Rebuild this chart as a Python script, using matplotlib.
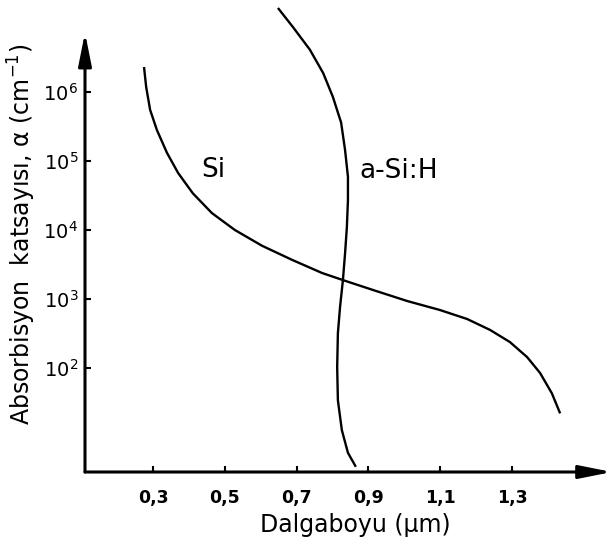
import numpy as np
import matplotlib
matplotlib.use("Agg")
import matplotlib.pyplot as plt
from matplotlib.ticker import FixedLocator, FuncFormatter

plt.rcParams['font.family'] = ['DejaVu Sans']

# --- veriler: dalgaboyu (um) ve sogurma katsayisi alpha (cm^-1) ---
si_wl = [0.275, 0.281, 0.292, 0.311, 0.339, 0.370, 0.411, 0.464, 0.528,
         0.604, 0.687, 0.771, 0.829, 0.913, 1.008, 1.099, 1.175, 1.239,
         1.294, 1.342, 1.378, 1.411, 1.434]
si_alpha = [2.3e6, 1.18e6, 5.5e5, 2.8e5, 1.31e5, 6.7e4, 3.4e4, 1.76e4, 1.0e4,
            5.9e3, 3.7e3, 2.38e3, 1.88e3, 1.35e3, 935, 693, 513, 356,
            238, 144, 85, 43, 22]

asi_wl = [0.648, 0.690, 0.737, 0.774, 0.801, 0.824, 0.835, 0.843, 0.843,
          0.840, 0.835, 0.829, 0.821, 0.815, 0.813, 0.815, 0.826, 0.843,
          0.865]
asi_alpha = [1.65e7, 8.7e6, 4.1e6, 1.88e6, 8.5e5, 3.6e5, 1.44e5, 5.9e4, 2.7e4,
             1.1e4, 4.6e3, 1.88e3, 765, 321, 103, 34, 12.6, 5.9,
             3.7]

x_ticks = [0.3, 0.5, 0.7, 0.9, 1.1, 1.3]
y_ticks = [1e2, 1e3, 1e4, 1e5, 1e6]

W, H = 612, 550
fig = plt.figure(figsize=(W / 100, H / 100), dpi=100)
# eksen kutusu: sol kenar = dikey eksen, alt kenar = yatay eksen
ax = fig.add_axes([85 / W, (H - 472) / H, (W - 85) / W, 472 / H])
ax.set_yscale('log')
xmin, xmax = 0.1106, 1.5785
ymin, ymax = 10 ** 0.493, 10 ** 7.333
ax.set_xlim(xmin, xmax)
ax.set_ylim(ymin, ymax)
for s in ax.spines.values():
    s.set_visible(False)

lw_curve = 1.7
ax.plot(si_wl, si_alpha, color='black', lw=lw_curve, solid_capstyle='butt',
        solid_joinstyle='round', clip_on=False)
ax.plot(asi_wl, asi_alpha, color='black', lw=lw_curve, solid_capstyle='butt',
        solid_joinstyle='round', clip_on=False)

# oklu eksenler
arrow = dict(arrowstyle='-|>,head_length=1.1,head_width=0.22', lw=2.2,
             color='black', shrinkA=0, shrinkB=0, mutation_scale=18)
ax.annotate('', xy=(xmin, 10 ** 6.86), xytext=(xmin, ymin), arrowprops=arrow,
            annotation_clip=False)
ax.annotate('', xy=(xmax, ymin), xytext=(xmin, ymin), arrowprops=arrow,
            annotation_clip=False)

ax.xaxis.set_major_locator(FixedLocator(x_ticks))
ax.xaxis.set_major_formatter(FuncFormatter(lambda v, p: f"{v:.1f}".replace('.', ',')))
ax.yaxis.set_major_locator(FixedLocator(y_ticks))
ax.yaxis.set_minor_locator(FixedLocator([]))
ax.yaxis.set_major_formatter(FuncFormatter(
    lambda v, p: r"$\mathregular{10^{%d}}$" % int(round(np.log10(v)))))
ax.tick_params(axis='x', direction='in', length=4, width=1.5, pad=12,
               labelsize=12.5)
ax.tick_params(axis='y', direction='in', length=4, width=1.5, pad=5,
               labelsize=14)
for lab in ax.get_xticklabels():
    lab.set_fontweight('bold')

fig.text(355 / W, 1 - 525 / H, 'Dalgaboyu (µm)', fontsize=17,
         ha='center', va='center')
fig.text(22 / W, 1 - 234 / H, 'Absorbisyon  katsayısı, α (cm$^{-1}$)',
         fontsize=17, rotation=90, ha='center', va='center')

fig.text(213 / W, 1 - 170 / H, 'Si', fontsize=19, ha='center', va='center')
fig.text(399 / W, 1 - 171 / H, 'a-Si:H', fontsize=19, ha='center', va='center')

fig.savefig('out.png', dpi=100)
